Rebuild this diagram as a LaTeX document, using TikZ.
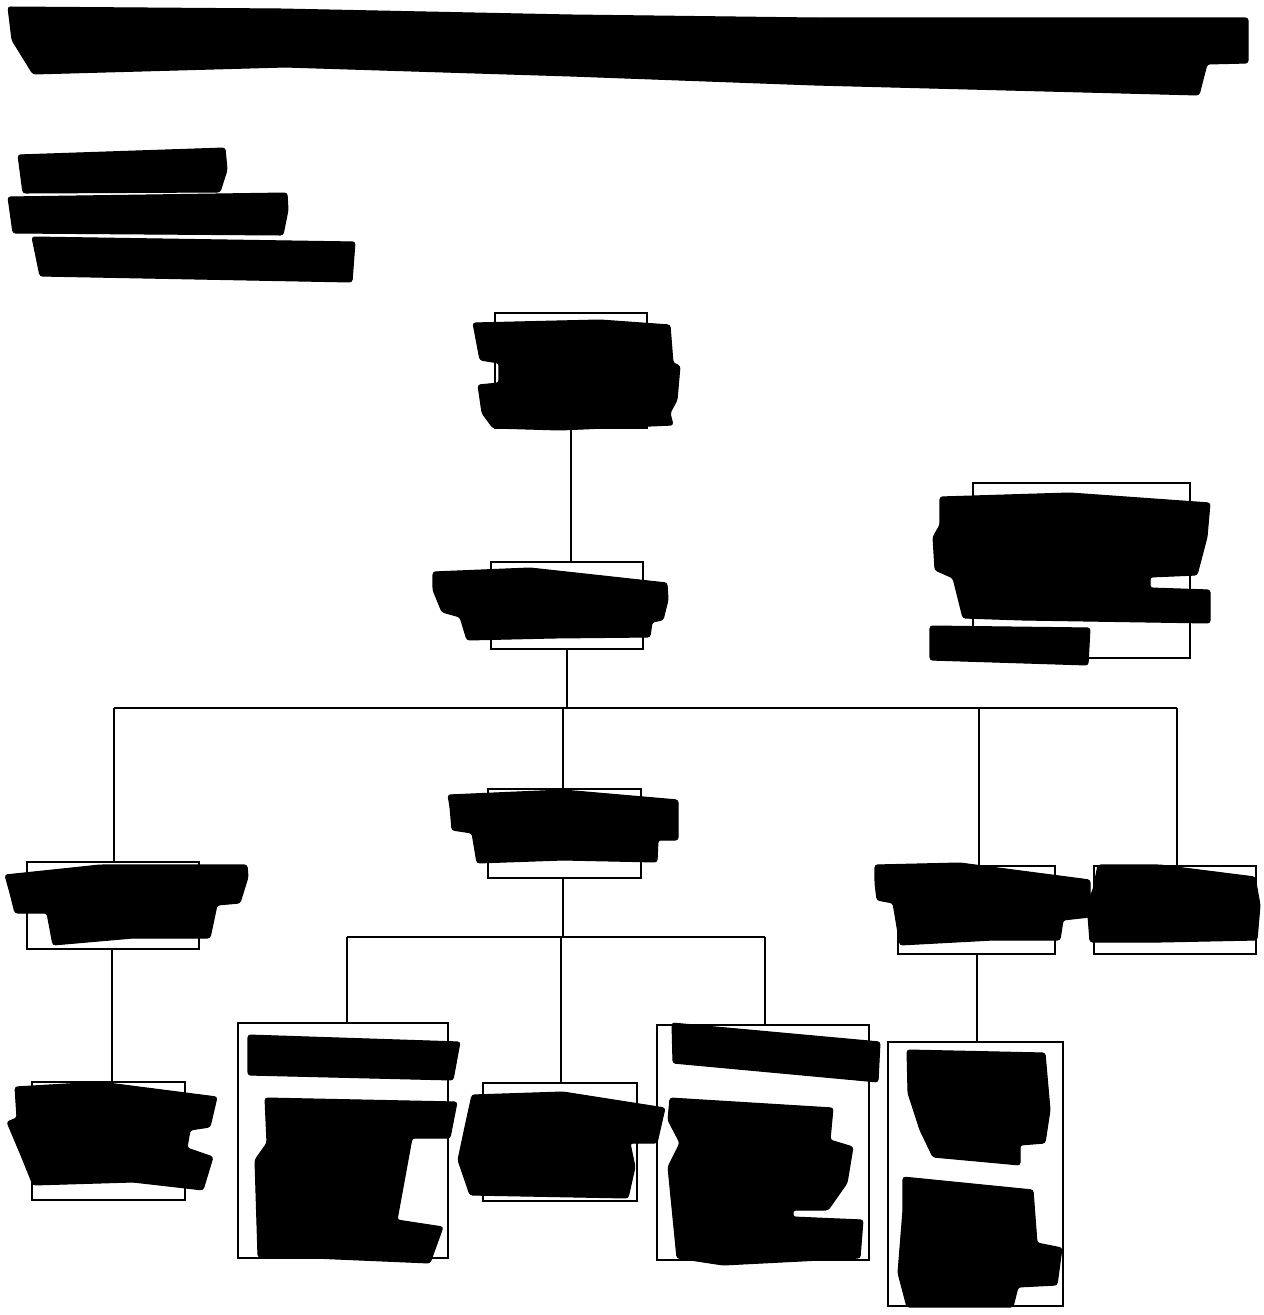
\documentclass[tikz,border=0pt]{standalone}
\usetikzlibrary{fit}

\begin{document}
\begin{tikzpicture}[
  x=0.02cm,y=-0.02cm,
  unit/.style={draw,line width=0.9pt,inner sep=0pt,fill=white},
  link/.style={line width=0.9pt},
  redact/.style={fill=black,draw=black,line width=0.6pt,line join=round,rounded corners=1.5pt}]
\useasboundingbox (0,0) rectangle (1264,1315);
% org units
\node[unit,fit={(495,313) (647,428)}] (top) {};
\node[unit,fit={(491,562) (643,649)}] (dir) {};
\node[unit,fit={(973,483) (1190,658)}] (side) {};
\node[unit,fit={(488,789) (641,878)}] (mid) {};
\node[unit,fit={(27,862) (199,949)}] (lft) {};
\node[unit,fit={(32,1082) (185,1200)}] (lftsub) {};
\node[unit,fit={(898,866) (1055,954)}] (rgt) {};
\node[unit,fit={(1094,866) (1256,954)}] (far) {};
\node[unit,fit={(888,1042) (1063,1306)}] (rgtsub) {};
\node[unit,fit={(238,1023) (448,1258)}] (sa) {};
\node[unit,fit={(483,1083) (637,1201)}] (sb) {};
\node[unit,fit={(657,1025) (869,1260)}] (sc) {};
% buses
\coordinate (busL) at (114,708);
\coordinate (busR) at (1177,708);
\coordinate (bus2L) at (347,937);
\coordinate (bus2R) at (765,937);
\draw[link] (top.south) -- (top.south |- dir.north);
\draw[link] (dir.south) -- (dir.south |- busL);
\draw[link] (busL) -- (busR);
\draw[link] (busL) -- (busL |- lft.north);
\draw[link] (busR) -- (busR |- far.north);
\draw[link] (979,708) -- (979,866);
\draw[link] (563,708) -- (563,789);
\draw[link] (112,949) -- (lftsub.north -| 112,0);
\draw[link] (977,954) -- (rgtsub.north -| 977,0);
\draw[link] (563,878) -- (563,937);
\draw[link] (bus2L) -- (bus2R);
\foreach \n/\x in {sa/347,sb/561,sc/765} \draw[link] (\x,937) -- (\n.north -| \x,0);
% redactions
\fill[redact] (8,7) -- (280,9) -- (570,15) -- (815,18) -- (1248,18) -- (1248,63) -- (1207,64) -- (1199,95) -- (815,85) -- (571,76) -- (285,67) -- (33,74) -- (12,40) -- cycle;
\fill[redact] (18,155) -- (225,148) -- (227,170) -- (220,192) -- (23,193) -- cycle;
\fill[redact] (8,197) -- (287,193) -- (288,210) -- (283,235) -- (13,233) -- cycle;
\fill[redact] (32,237) -- (355,242) -- (352,282) -- (40,276) -- cycle;
\fill[redact] (473,323) -- (600,320) -- (670,325) -- (673,363) -- (680,366) -- (677,400) -- (670,413) -- (673,425) -- (560,430) -- (493,428) -- (482,413) -- (478,385) -- (499,383) -- (499,363) -- (480,360) -- cycle;
\fill[redact] (433,572) -- (530,568) -- (667,583) -- (668,600) -- (663,620) -- (652,622) -- (650,637) -- (553,638) -- (467,640) -- (460,617) -- (442,612) -- (433,590) -- cycle;
\fill[redact] (940,497) -- (1070,493) -- (1210,503) -- (1207,537) -- (1197,575) -- (1150,577) -- (1150,588) -- (1210,590) -- (1210,623) -- (1023,620) -- (963,618) -- (953,578) -- (935,570) -- (933,537) -- (940,525) -- cycle;
\fill[redact] (930,626) -- (1090,628) -- (1088,665) -- (930,660) -- cycle;
\fill[redact] (448,795) -- (563,790) -- (678,800) -- (678,840) -- (658,840) -- (657,862) -- (563,860) -- (477,863) -- (472,833) -- (452,830) -- (450,807) -- cycle;
\fill[redact] (5,875) -- (100,865) -- (247,865) -- (248,877) -- (240,903) -- (217,905) -- (210,938) -- (133,938) -- (53,945) -- (47,913) -- (15,913) -- (10,893) -- cycle;
\fill[redact] (875,865) -- (960,863) -- (1090,880) -- (1090,917) -- (1063,920) -- (1060,940) -- (993,940) -- (900,945) -- (893,903) -- (877,900) -- (875,883) -- cycle;
\fill[redact] (1098,865) -- (1160,865) -- (1255,877) -- (1260,905) -- (1257,940) -- (1160,942) -- (1090,942) -- (1087,903) -- (1093,890) -- cycle;
\fill[redact] (15,1087) -- (100,1082) -- (217,1097) -- (210,1127) -- (190,1130) -- (187,1148) -- (213,1157) -- (203,1190) -- (133,1182) -- (33,1185) -- (23,1160) -- (7,1122) -- (17,1118) -- cycle;
\fill[redact] (248,1035) -- (460,1042) -- (453,1080) -- (248,1075) -- cycle;
\fill[redact] (265,1098) -- (457,1102) -- (450,1138) -- (412,1138) -- (397,1220) -- (443,1227) -- (430,1263) -- (313,1258) -- (258,1257) -- (255,1160) -- (267,1143) -- cycle;
\fill[redact] (472,1095) -- (563,1092) -- (665,1108) -- (657,1143) -- (630,1143) -- (635,1167) -- (628,1198) -- (470,1195) -- (458,1160) -- (465,1127) -- cycle;
\fill[redact] (672,1023) -- (880,1042) -- (878,1082) -- (673,1063) -- cycle;
\fill[redact] (670,1098) -- (833,1108) -- (830,1140) -- (853,1147) -- (847,1183) -- (828,1210) -- (793,1210) -- (793,1217) -- (863,1220) -- (860,1258) -- (723,1265) -- (677,1258) -- (668,1167) -- (680,1143) -- (668,1120) -- cycle;
\fill[redact] (907,1050) -- (1045,1053) -- (1050,1110) -- (1045,1143) -- (1020,1145) -- (1020,1165) -- (933,1157) -- (920,1130) -- (908,1093) -- cycle;
\fill[redact] (903,1177) -- (1033,1190) -- (1037,1243) -- (1062,1248) -- (1057,1285) -- (1018,1287) -- (1013,1307) -- (907,1307) -- (898,1273) -- (903,1210) -- cycle;
\end{tikzpicture}
\end{document}
